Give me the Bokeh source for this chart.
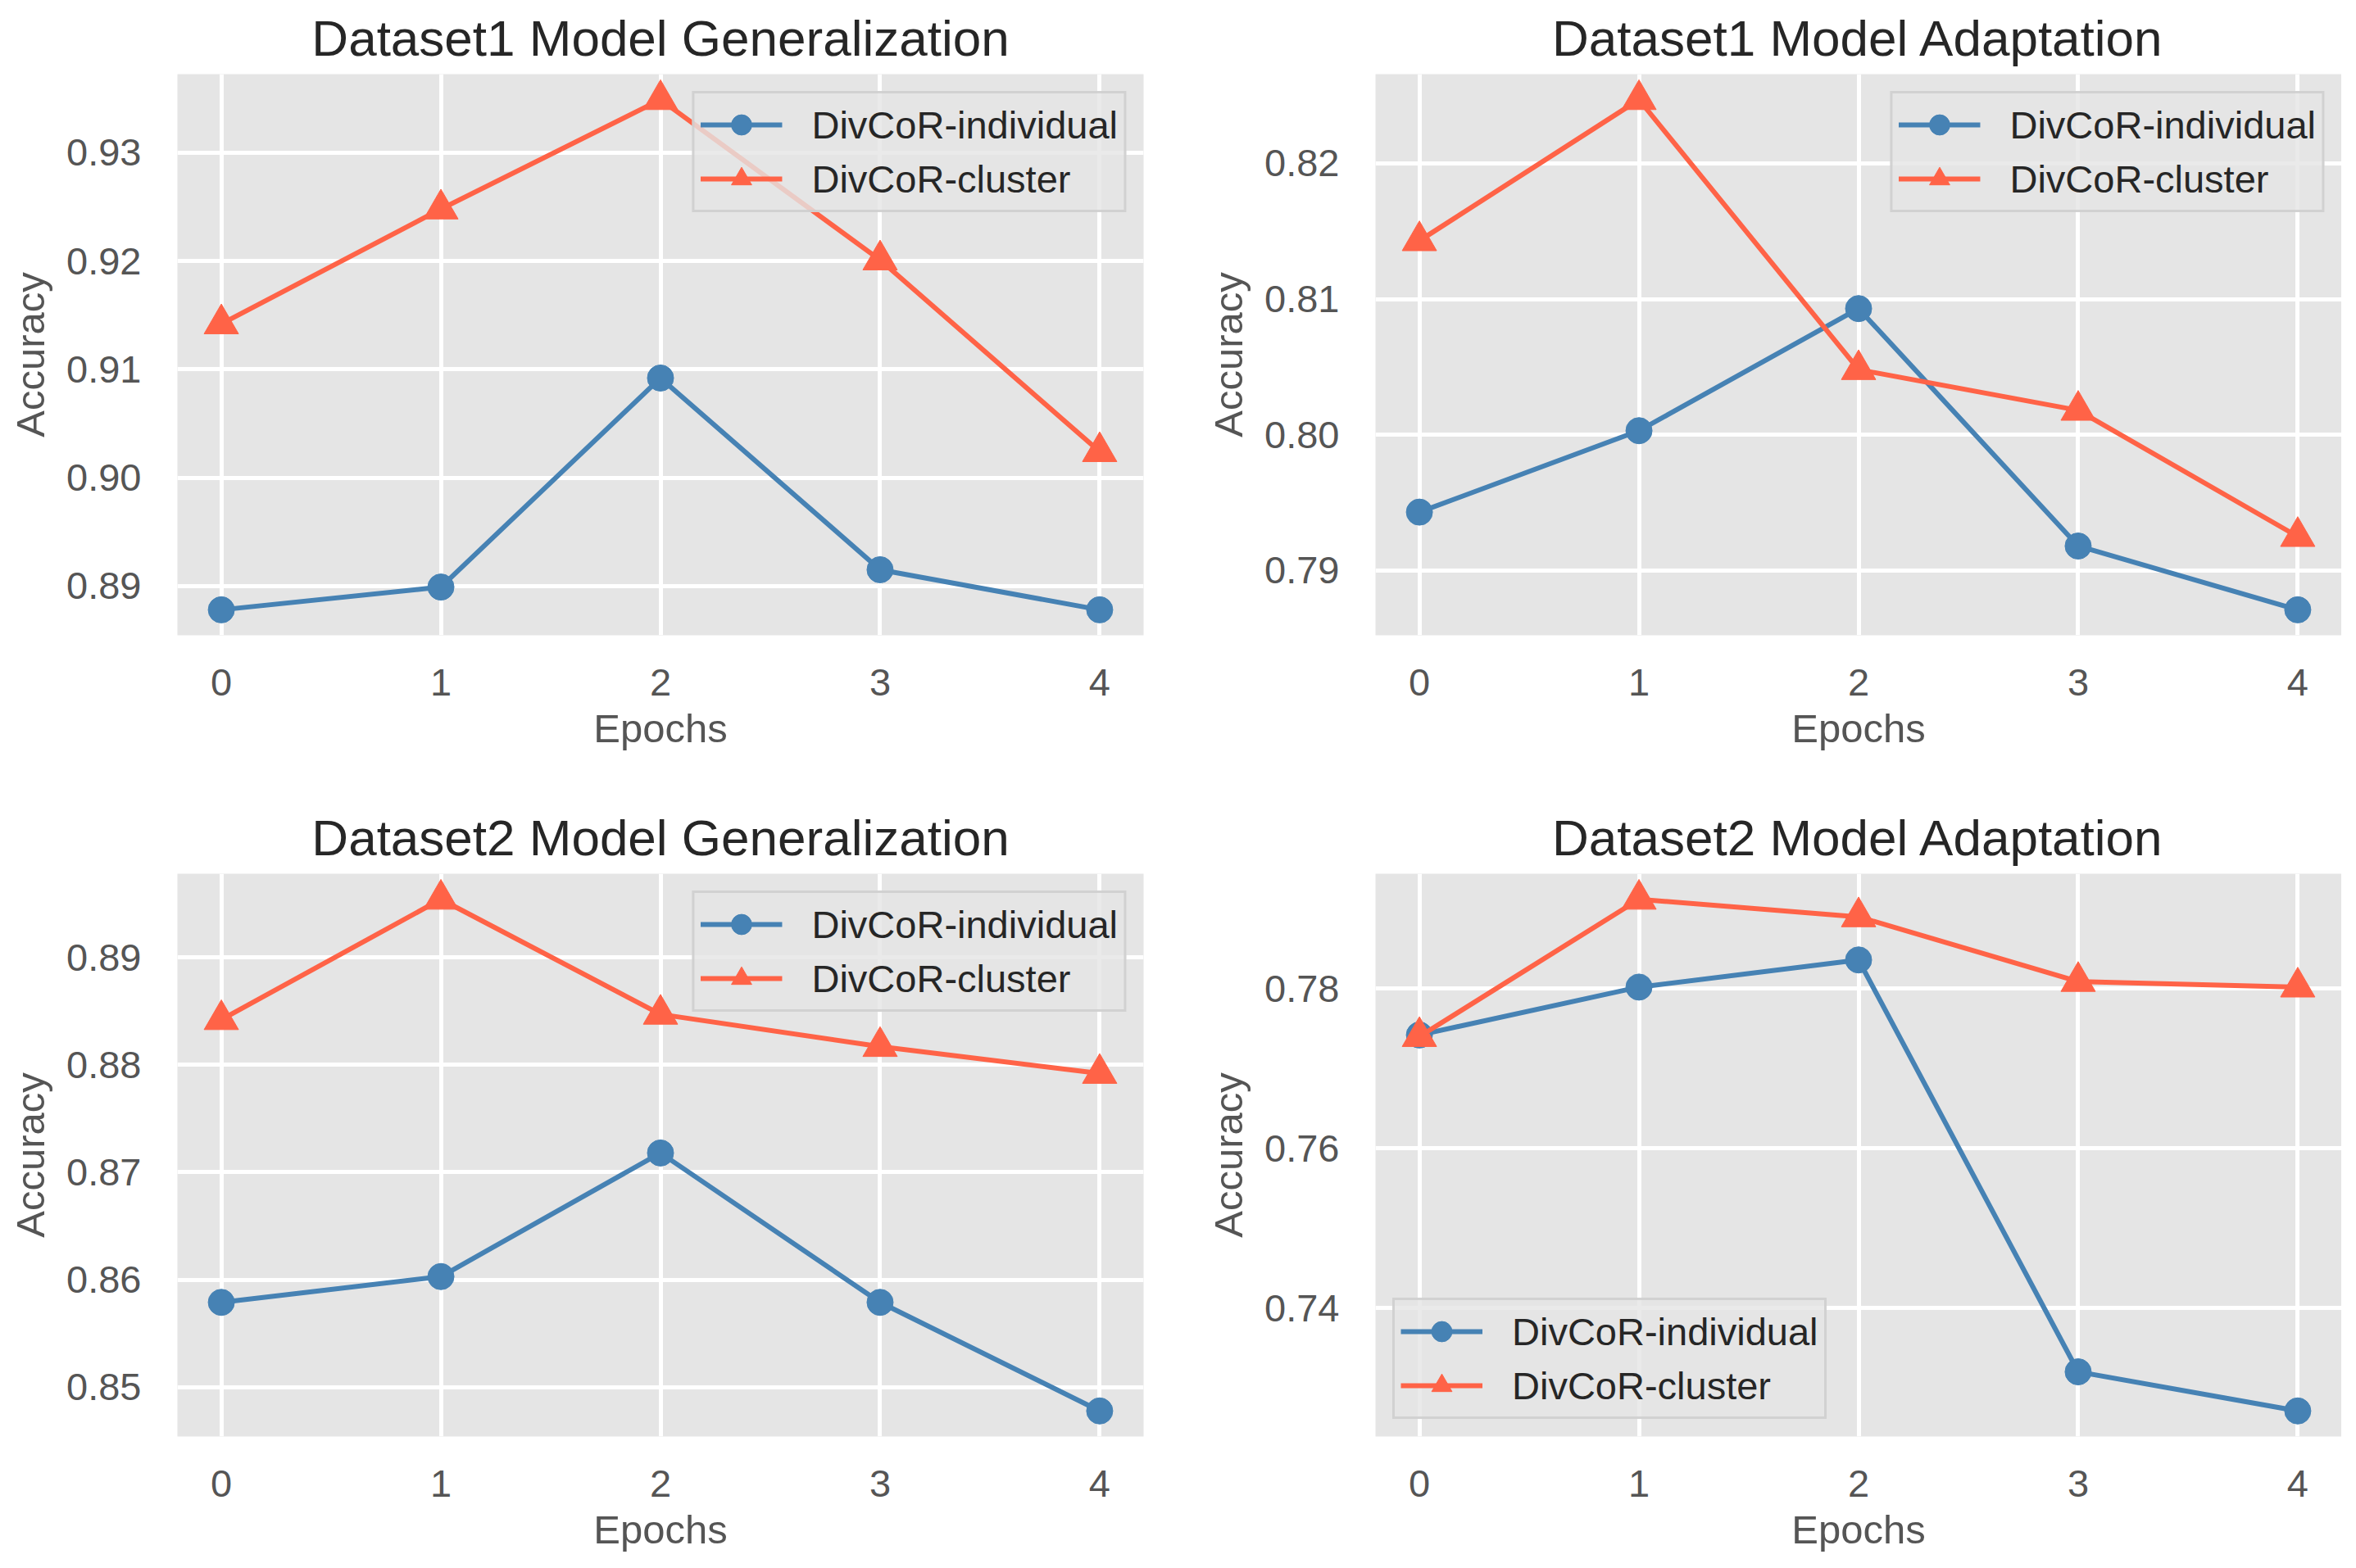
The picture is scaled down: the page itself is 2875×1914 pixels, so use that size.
from bokeh.plotting import figure
from bokeh.layouts import column, row
from bokeh.models import FixedTicker, NumeralTickFormatter, Range1d
from bokeh.embed import file_html
from bokeh.resources import INLINE

# ---- data ----
epochs = [0, 1, 2, 3, 4]
x_ticks = [0, 1, 2, 3, 4]
series_names = ["DivCoR-individual", "DivCoR-cluster"]

d1_gen_individual = [0.8878, 0.8899, 0.9092, 0.8915, 0.8878]
d1_gen_cluster = [0.9142, 0.9248, 0.9349, 0.9201, 0.9024]
d1_ada_individual = [0.7943, 0.8003, 0.8093, 0.7918, 0.7871]
d1_ada_cluster = [0.8143, 0.8247, 0.8048, 0.8018, 0.7925]
d2_gen_individual = [0.8579, 0.8603, 0.8718, 0.8579, 0.8478]
d2_gen_cluster = [0.8842, 0.8954, 0.8847, 0.8817, 0.8792]
d2_ada_individual = [0.7742, 0.7802, 0.7836, 0.7320, 0.7271]
d2_ada_cluster = [0.7740, 0.7912, 0.7890, 0.7809, 0.7802]

d1_gen_yticks = [0.89, 0.90, 0.91, 0.92, 0.93]
d1_ada_yticks = [0.79, 0.80, 0.81, 0.82]
d2_gen_yticks = [0.85, 0.86, 0.87, 0.88, 0.89]
d2_ada_yticks = [0.74, 0.76, 0.78]

titles = ["Dataset1 Model Generalization", "Dataset1 Model Adaptation",
          "Dataset2 Model Generalization", "Dataset2 Model Adaptation"]
x_label = "Epochs"
y_label = "Accuracy"

FONT = "Liberation Sans"
BLUE = "#4682B4"
RED = "#FF6347"


def make_fig(title, ind, clu, yticks, legend_loc, width, height, bl, br, bt, bb,
             title_standoff):
    lo = min(ind + clu)
    hi = max(ind + clu)
    pad = 0.05 * (hi - lo)
    p = figure(width=width, height=height, output_backend="svg", toolbar_location=None,
               x_range=Range1d(-0.2, 4.2), y_range=Range1d(lo - pad, hi + pad),
               min_border_left=bl, min_border_right=br, min_border_top=bt, min_border_bottom=bb)
    p.background_fill_color = "#E5E5E5"
    p.border_fill_color = "white"
    p.outline_line_color = None

    p.title.text = title
    p.title.text_font = FONT
    p.title.text_font_size = "62px"
    p.title.text_font_style = "normal"
    p.title.text_color = "#262626"
    p.title.align = "center"
    p.title.standoff = title_standoff

    for ax in (p.xaxis[0], p.yaxis[0]):
        ax.axis_line_color = None
        ax.major_tick_line_color = None
        ax.minor_tick_line_color = None
        ax.major_tick_out = 0
        ax.major_tick_in = 0
        ax.major_label_text_font = FONT
        ax.major_label_text_font_size = "47px"
        ax.major_label_text_color = "#555555"
        ax.axis_label_text_font = FONT
        ax.axis_label_text_font_size = "49px"
        ax.axis_label_text_font_style = "normal"
        ax.axis_label_text_color = "#555555"

    p.xaxis.axis_label = x_label
    p.yaxis.axis_label = y_label
    p.xaxis.ticker = FixedTicker(ticks=x_ticks)
    p.yaxis.ticker = FixedTicker(ticks=yticks)
    p.yaxis.formatter = NumeralTickFormatter(format="0.00")
    p.xaxis.major_label_standoff = 41
    p.xaxis.axis_label_standoff = 10
    p.yaxis.major_label_standoff = 44
    p.yaxis.axis_label_standoff = 14

    p.xgrid.grid_line_color = "white"
    p.ygrid.grid_line_color = "white"
    p.xgrid.grid_line_width = 5
    p.ygrid.grid_line_width = 5
    p.xgrid.ticker = FixedTicker(ticks=x_ticks)
    p.ygrid.ticker = FixedTicker(ticks=yticks)

    p.line(epochs, ind, line_color=BLUE, line_width=6, legend_label=series_names[0])
    p.scatter(epochs, ind, marker="circle", size=32, fill_color=BLUE, line_color=BLUE,
              legend_label=series_names[0])
    p.line(epochs, clu, line_color=RED, line_width=6, legend_label=series_names[1])
    p.scatter(epochs, clu, marker="triangle", size=42, fill_color=RED, line_color=RED,
              legend_label=series_names[1])

    lg = p.legend[0]
    lg.location = legend_loc
    lg.margin = 21
    lg.padding = 7
    lg.spacing = 4
    lg.glyph_width = 100
    lg.glyph_height = 62
    lg.label_height = 62
    lg.label_standoff = 36
    lg.label_text_font = FONT
    lg.label_text_font_size = "47px"
    lg.label_text_color = "#262626"
    lg.background_fill_color = "#E5E5E5"
    lg.background_fill_alpha = 0.8
    lg.border_line_color = "#CCCCCC"
    lg.border_line_width = 3
    lg.border_line_alpha = 0.8
    return p


p1 = make_fig(titles[0], d1_gen_individual, d1_gen_cluster, d1_gen_yticks, "top_right",
              1437, 957, 216, 42, 88, 182, 19)
p2 = make_fig(titles[1], d1_ada_individual, d1_ada_cluster, d1_ada_yticks, "top_right",
              1420, 957, 241, 0, 88, 182, 19)
p3 = make_fig(titles[2], d2_gen_individual, d2_gen_cluster, d2_gen_yticks, "top_right",
              1437, 949, 216, 42, 109, 153, 19)
p4 = make_fig(titles[3], d2_ada_individual, d2_ada_cluster, d2_ada_yticks, "bottom_left",
              1420, 949, 241, 0, 109, 153, 19)

layout = column(row(p1, p2), row(p3, p4))
open("out.html", "w").write(file_html(layout, INLINE))
